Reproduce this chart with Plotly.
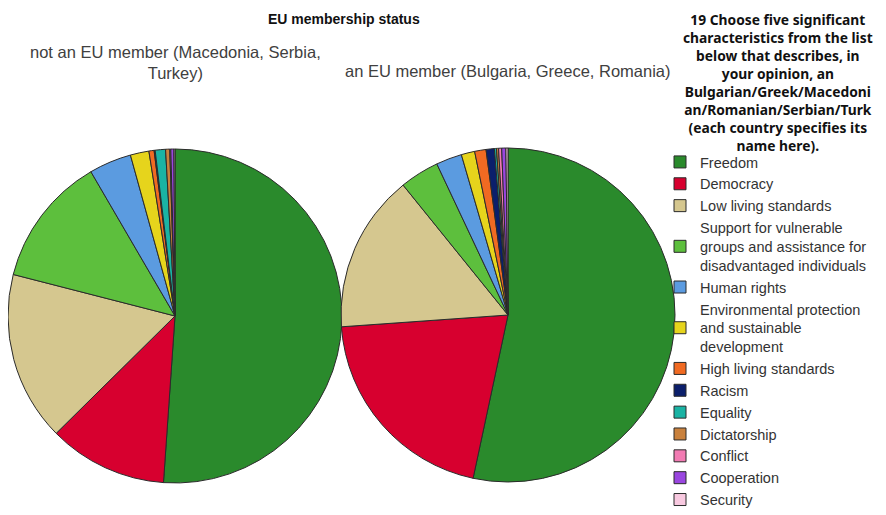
import plotly.graph_objects as go

# categories (legend order = slice order, clockwise from 12 o'clock)
labels = [
    "Freedom",
    "Democracy",
    "Low living standards",
    "Support for vulnerable<br>groups and assistance for<br>disadvantaged individuals",
    "Human rights",
    "Environmental protection<br>and sustainable<br>development",
    "High living standards",
    "Racism",
    "Equality",
    "Dictatorship",
    "Conflict",
    "Cooperation",
    "Security",
]

# percent of responses
not_member = [51.1, 11.5, 16.4, 12.6, 4.1, 1.8, 0.5, 0.1, 1.0, 0.4, 0.1, 0.3, 0.1]
member = [53.3, 20.5, 15.3, 3.8, 2.5, 1.3, 1.1, 0.8, 0.2, 0.2, 0.3, 0.4, 0.2]

colors = [
    "#2a8a2c", "#d7002f", "#d5c78f", "#5dbf3d", "#5b9be0", "#e6d41c",
    "#f06a22", "#0b1f6b", "#1ab3a4", "#c9813d", "#f27bb3", "#9a46e0", "#f8c9e0",
]

W, H = 886, 515
OFF = 8  # page body margin shifts the whole figure by this much


def px(x0, x1):
    return [max(0, (x0 - OFF) / W), min(1, (x1 - OFF) / W)]


def py(top, bottom):
    return [max(0, 1 - (bottom - OFF) / H), min(1, 1 - (top - OFF) / H)]


def ax(x):
    return (x - OFF) / W


def ay(y):
    return 1 - (y - OFF) / H


fig = go.Figure()

for vals, dom_x, dom_y in [
    (not_member, px(8, 342), py(148, 484)),
    (member, px(341, 675), py(147, 483)),
]:
    fig.add_trace(go.Pie(
        labels=labels,
        values=vals,
        sort=False,
        direction="clockwise",
        rotation=0,
        textinfo="none",
        hoverinfo="label+percent",
        marker=dict(colors=colors, line=dict(color="#2b2b2b", width=1)),
        domain=dict(x=dom_x, y=dom_y),
    ))

title_font = dict(family="Liberation Sans, Arial", size=14, color="#111111")
sub_font = dict(family="Liberation Sans, Arial", size=16.5, color="#404040")

fig.add_annotation(text="<b>EU membership status</b>", x=ax(344), y=ay(9),
                   xref="paper", yref="paper", xanchor="center", yanchor="top",
                   showarrow=False, font=title_font)
fig.add_annotation(text="not an EU member (Macedonia, Serbia,<br>Turkey)", x=ax(175), y=ay(41),
                   xref="paper", yref="paper", xanchor="center", yanchor="top",
                   showarrow=False, font=sub_font, align="center")
fig.add_annotation(text="an EU member (Bulgaria, Greece, Romania)", x=ax(508), y=ay(60),
                   xref="paper", yref="paper", xanchor="center", yanchor="top",
                   showarrow=False, font=sub_font)
fig.add_annotation(
    text="<b>19 Choose five significant<br>characteristics from the list<br>below that describes, in<br>"
         "your opinion, an<br>Bulgarian/Greek/Macedoni<br>an/Romanian/Serbian/Turk<br>"
         "(each country specifies its<br>name here).</b>",
    x=ax(778), y=ay(8), xref="paper", yref="paper", xanchor="center", yanchor="top",
    showarrow=False, font=dict(family="Noto Sans", size=13.8, color="#111111"),
    align="center")

fig.update_layout(
    width=W, height=H,
    margin=dict(l=0, r=0, t=0, b=0, autoexpand=False),
    paper_bgcolor="white",
    showlegend=True,
    legend=dict(
        x=ax(660), y=ay(146), xanchor="left", yanchor="top",
        font=dict(family="Liberation Sans, Arial", size=14.5, color="#333333"),
        traceorder="normal", itemwidth=30, tracegroupgap=0,
        bgcolor="rgba(0,0,0,0)",
    ),
)

fig.write_html("out.html")
